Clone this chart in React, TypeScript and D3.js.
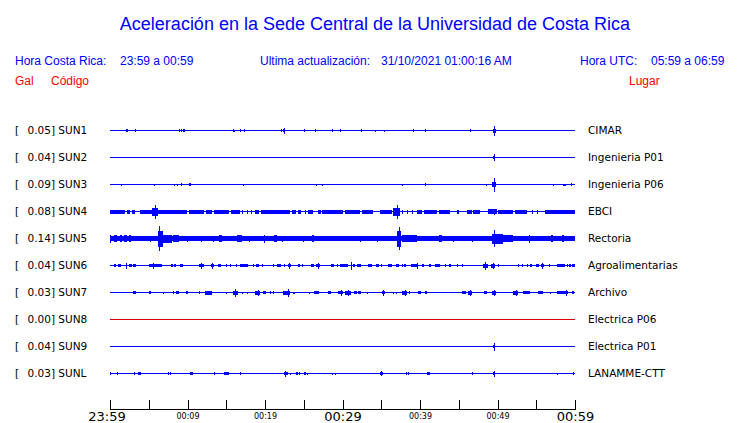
import React from "react";
import { scaleLinear, range } from "d3";

// [start minute, end minute, half amplitude]
type Burst = [number, number, number];

const stations = ["SUN1", "SUN2", "SUN3", "SUN4", "SUN5", "SUN6", "SUN7", "SUN8", "SUN9", "SUNL"];
const peaks = [0.05, 0.04, 0.09, 0.08, 0.14, 0.04, 0.03, 0.0, 0.04, 0.03];
const places = [
  "CIMAR",
  "Ingenieria P01",
  "Ingenieria P06",
  "EBCI",
  "Rectoria",
  "Agroalimentarias",
  "Archivo",
  "Electrica P06",
  "Electrica P01",
  "LANAMME-CTT",
];
const tickLabels = ["23:59", "00:09", "00:19", "00:29", "00:39", "00:49", "00:59"];

const sun1: Burst[] = [
  [2.0, 2.3, 1.5], [3.26, 3.26, 1.5], [8.9, 8.9, 1.5], [9.2, 9.2, 1.5], [9.4, 9.7, 1.2],
  [15.83, 15.83, 1.5], [16.04, 16.04, 1], [16.8, 16.8, 1.5], [17.33, 17.33, 1.5],
  [22.03, 22.03, 1.5], [22.35, 22.55, 1.5], [22.45, 22.45, 3], [25.07, 25.07, 1.5],
  [26.5, 26.5, 1.5], [28.7, 28.7, 1.5], [29.7, 29.7, 1.5], [32.35, 32.35, 1.5],
  [34.2, 34.2, 1], [35.3, 35.3, 1], [39.1, 39.1, 1.5], [40.7, 40.7, 1.5],
  [46.4, 46.4, 1.5], [49.45, 49.75, 2], [49.5, 49.5, 5],
];
const sun2: Burst[] = [[49.45, 49.7, 1.5], [49.5, 49.5, 3.5]];
const sun3: Burst[] = [
  [1.46, 1.46, 1], [5.7, 5.7, 1], [8.2, 8.2, 1], [8.7, 8.7, 1], [9.2, 9.2, 1.5],
  [10.25, 10.45, 1.5], [17.1, 17.1, 1], [26.6, 26.6, 1], [27.3, 27.3, 1],
  [37.7, 37.7, 1], [40.7, 40.7, 1.5], [48.5, 48.5, 1], [49.35, 49.75, 2.5],
  [49.5, 49.5, 7], [57.2, 57.2, 1], [58.4, 58.8, 1], [59.5, 59.5, 1.5],
];
const sun4: Burst[] = [
  [0, 1.94, 2], [2.15, 2.58, 2], [2.88, 3.23, 2], [3.87, 5.46, 2], [5.46, 6.23, 4],
  [5.8, 5.8, 7], [6.23, 9.9, 2], [10.19, 12.13, 2], [12.39, 13.12, 2], [13.42, 15.35, 2],
  [15.61, 16.77, 2], [17.08, 17.08, 2], [17.7, 17.7, 2], [18.15, 18.36, 2],
  [18.71, 19.26, 2], [19.48, 23.23, 2], [23.52, 24.0, 2], [24.3, 24.65, 2],
  [25.2, 25.2, 2], [25.59, 26.23, 2], [26.8, 27.23, 2], [27.4, 29.68, 2],
  [29.68, 30.11, 2], [30.32, 32.26, 2], [32.47, 33.98, 2], [34.84, 36.34, 2],
  [36.56, 37.42, 4], [37.08, 37.08, 7], [37.63, 37.63, 2], [38.28, 38.28, 2],
  [38.92, 38.92, 2], [39.57, 40.22, 2], [40.52, 42.15, 2], [42.41, 43.87, 2],
  [44.73, 45.08, 2], [46.02, 46.67, 2], [46.88, 47.74, 2], [48.82, 49.89, 2.5],
  [49.5, 49.5, 3], [50.11, 52.04, 2], [52.26, 53.76, 2], [54.41, 54.41, 2],
  [55.05, 55.05, 2], [56.13, 60, 2],
];
const sun5: Burst[] = [
  [0, 60, 2.3], [0, 0, 4], [0.56, 0.86, 3.5], [1.29, 1.59, 3.5], [1.85, 2.19, 3.5],
  [2.49, 2.75, 3.5], [5.16, 5.16, 3], [6.2, 6.88, 8], [6.37, 6.37, 12.5],
  [6.88, 7.96, 4], [8.17, 8.9, 3.5], [9.89, 9.89, 3], [11.74, 11.74, 3],
  [13.25, 13.25, 3], [14.06, 14.41, 3.5], [16.34, 17.08, 3.5], [17.94, 17.94, 3],
  [19.83, 19.83, 4], [21.2, 21.55, 3.5], [22.24, 22.24, 3], [24.86, 24.86, 3],
  [26.11, 26.37, 3.5], [32.26, 32.26, 3], [34.49, 34.49, 3], [37.08, 37.6, 8],
  [37.29, 37.29, 11.5], [37.63, 39.57, 3.5], [42.4, 42.8, 3.5], [44.3, 44.3, 3],
  [46.67, 46.67, 3], [49.25, 50.75, 5], [49.51, 49.51, 8.5], [50.75, 52.04, 3.5],
  [54.0, 54.0, 4], [56.85, 57.1, 3.5], [58.35, 58.6, 3.5],
];
const sun6: Burst[] = [
  [0.52, 0.82, 1.5], [0.99, 1.42, 1.5], [2.02, 2.02, 3], [2.45, 2.8, 1.5], [2.97, 3.31, 1.5],
  [5.08, 6.75, 1.5], [5.59, 5.59, 3], [7.83, 8.13, 1.5], [8.22, 8.47, 1.5], [9.03, 9.42, 1.5],
  [11.48, 12.09, 1.5], [11.74, 11.74, 3], [13.03, 13.38, 1.5], [13.2, 13.2, 3],
  [13.94, 14.32, 1.5], [14.92, 14.92, 1.5], [15.53, 15.53, 1.5], [16.26, 16.26, 1.5],
  [16.77, 17.76, 1.5], [18.41, 18.41, 1.5], [18.8, 19.23, 1.5], [19.57, 19.57, 1.5],
  [20.99, 20.99, 1.5], [21.51, 22.02, 1.5], [22.45, 22.45, 1.5], [22.92, 23.35, 1.5],
  [23.14, 23.14, 3], [24.22, 24.52, 1.5], [24.82, 24.82, 1.5], [25.94, 26.37, 1.5],
  [26.58, 27.1, 1.5], [26.8, 26.8, 3], [28.52, 28.95, 1.5], [29.33, 29.33, 1.5],
  [29.72, 30.75, 1.5], [31.05, 31.05, 4], [31.35, 31.61, 1.5], [31.83, 32.34, 1.5],
  [33.33, 33.76, 1.5], [34.32, 34.32, 1.5], [34.5, 34.75, 1.5], [35.01, 35.01, 1.5],
  [35.91, 36.39, 1.5], [36.9, 37.33, 1.5], [37.63, 37.63, 1.5], [37.94, 38.19, 1.5],
  [38.84, 39.57, 1.5], [39.66, 39.66, 3], [40.2, 40.47, 1.5], [41.12, 41.46, 1.5],
  [41.94, 42.58, 1.5], [43.23, 43.23, 1.5], [43.75, 44.0, 1.5], [44.82, 44.82, 1.5],
  [45.46, 45.46, 1.5], [48.09, 48.73, 2], [48.39, 48.39, 4], [49.16, 49.68, 2],
  [49.38, 49.38, 3], [50.02, 50.02, 1.5], [52.69, 52.69, 1.5], [53.12, 53.12, 1.5],
  [53.76, 53.76, 1.5], [54.15, 54.41, 1.5], [54.97, 55.35, 1.5], [55.61, 56.04, 1.5],
  [55.78, 55.78, 3], [56.62, 56.62, 1.5], [57.74, 58.67, 1.5], [58.92, 58.92, 1.5],
  [59.22, 59.48, 1.5], [59.57, 60, 1.5],
];
const sun7: Burst[] = [
  [2.97, 3.35, 1.5], [5.03, 5.29, 1.5], [6.88, 6.88, 1], [8.17, 8.17, 1.5], [8.52, 8.9, 1.5],
  [9.81, 10.06, 1.5], [11.48, 11.48, 1.5], [12.26, 13.2, 2], [14.97, 14.97, 1],
  [15.91, 16.47, 2], [16.17, 16.17, 4], [17.08, 17.08, 1], [17.72, 17.72, 1],
  [18.71, 19.4, 2], [19.1, 19.1, 3], [19.74, 20.08, 1.5], [20.65, 20.65, 1.5],
  [21.08, 21.08, 1.5], [22.37, 23.23, 2], [23.01, 23.01, 4], [23.57, 23.57, 1],
  [23.78, 23.78, 1], [25.72, 25.72, 1], [26.37, 26.97, 1.5], [28.17, 28.47, 1.5],
  [29.46, 30.11, 1.5], [29.76, 29.76, 3], [30.32, 31.05, 2], [30.67, 30.67, 3],
  [31.48, 31.83, 1.5], [32.0, 32.34, 1.5], [33.2, 33.2, 1], [35.1, 35.5, 1.5],
  [35.27, 35.27, 3], [36.56, 36.56, 1], [36.9, 36.9, 1], [37.63, 38.28, 2],
  [38.06, 38.06, 3], [38.62, 38.62, 1.5], [39.72, 40.11, 1.5], [40.63, 40.92, 1.5],
  [45.38, 45.94, 1.5], [46.2, 46.7, 2], [46.45, 46.45, 3], [48.2, 48.65, 1.5],
  [49.3, 49.8, 2], [49.55, 49.55, 3], [52.04, 52.69, 2], [52.39, 52.39, 3],
  [53.29, 54.24, 1.5], [55.27, 55.83, 1.5], [56.77, 56.77, 1], [57.72, 59.14, 1.5],
  [58.84, 58.84, 3], [59.65, 59.9, 1.5],
];
const sun8: Burst[] = [];
const sun9: Burst[] = [[49.51, 49.51, 4], [49.45, 49.65, 1.5]];
const sunL: Burst[] = [
  [0, 0, 1.5], [0.86, 0.86, 1.5], [3.05, 3.05, 1.5], [3.57, 3.96, 1.5], [7.53, 7.53, 1.5],
  [7.78, 7.78, 1.5], [10.37, 10.67, 1.5], [13.38, 13.38, 1.5], [14.71, 15.35, 1.5],
  [16.73, 16.73, 1.5], [22.45, 22.92, 1.5], [22.62, 22.62, 3], [23.27, 23.27, 1],
  [23.98, 24.2, 1.5], [24.4, 24.55, 1.5], [25.05, 25.3, 1.5], [25.46, 25.46, 1],
  [28.69, 28.69, 1], [29.03, 29.03, 1], [34.85, 35.2, 1.5], [35.01, 35.01, 2.5],
  [38.13, 38.13, 1.5], [38.39, 38.39, 1.5], [40.9, 41.25, 1.5], [46.67, 46.67, 1.5],
  [49.4, 49.6, 1.5], [49.51, 49.51, 3], [57.72, 57.72, 1], [59.78, 59.78, 1.5],
];
const bursts = [sun1, sun2, sun3, sun4, sun5, sun6, sun7, sun8, sun9, sunL];

const BLUE = "#0000ff";
const RED = "#ff0000";
const LABEL_FONT = "'DejaVu Sans', sans-serif";
const HEAD_FONT = "'Liberation Sans', Arial, sans-serif";

export default function App() {
  const width = 740;
  const height = 423;
  const x = scaleLinear().domain([0, 60]).range([110, 575]);
  const row = scaleLinear().domain([0, 9]).range([130, 373]);
  const amp = scaleLinear().domain([0, 13]).range([0, 13]);
  const axisY = 409.5;

  return (
    <svg
      width={width}
      height={height}
      style={{ position: "absolute", left: 0, top: 0, background: "#fff" }}
    >
      <text x={375} y={30} textAnchor="middle" fontFamily={HEAD_FONT} fontSize={18} fill={BLUE}>
        Aceleración en la Sede Central de la Universidad de Costa Rica
      </text>
      <g fontFamily={HEAD_FONT} fontSize={12} fill={BLUE}>
        <text x={15} y={65}>Hora Costa Rica:</text>
        <text x={120} y={65}>23:59 a 00:59</text>
        <text x={260} y={65}>Ultima actualización:</text>
        <text x={381} y={65}>31/10/2021 01:00:16 AM</text>
        <text x={580} y={65}>Hora UTC:</text>
        <text x={651} y={65}>05:59 a 06:59</text>
      </g>
      <g fontFamily={HEAD_FONT} fontSize={12} fill={RED}>
        <text x={15} y={85}>Gal</text>
        <text x={51} y={85}>Código</text>
        <text x={629} y={85}>Lugar</text>
      </g>

      {stations.map((s, i) => {
        const cy = row(i) + 0.5;
        const color = peaks[i] === 0 ? "#dd0000" : BLUE;
        return (
          <g key={s}>
            <g fontFamily={LABEL_FONT} fontSize={10.5} fill="#000">
              <text x={15} y={cy} dy="0.35em">[</text>
              <text x={27.5} y={cy} dy="0.35em">
                {peaks[i].toFixed(2)}] {s}
              </text>
              <text x={588} y={cy} dy="0.35em">{places[i]}</text>
            </g>
            <line x1={x(0)} x2={x(60)} y1={cy} y2={cy} stroke={color} strokeWidth={1} shapeRendering="crispEdges" />
            {bursts[i].map(([a, b, h], j) => {
              const x0 = x(a);
              const w = Math.max(1, x(b) - x(a));
              return (
                <rect
                  key={j}
                  x={Math.min(x0, x(60) - w)}
                  y={cy - amp(h)}
                  width={w}
                  height={2 * amp(h)}
                  fill={color}
                  shapeRendering="crispEdges"
                />
              );
            })}
          </g>
        );
      })}

      <g>
        <line x1={x(0)} x2={x(60)} y1={axisY} y2={axisY} stroke="#000" shapeRendering="crispEdges" />
        {range(0, 61, 5).map((m) => (
          <line
            key={m}
            x1={x(m) + 0.5}
            x2={x(m) + 0.5}
            y1={400}
            y2={axisY}
            stroke="#000"
            shapeRendering="crispEdges"
          />
        ))}
        {tickLabels.map((t, i) => {
          const m = i * 10;
          const big = m % 30 === 0;
          return (
            <text
              key={t}
              x={x(m) + (i === 0 ? -3 : 0.5)}
              y={big ? 421 : 419}
              textAnchor="middle"
              fontFamily={LABEL_FONT}
              fontSize={big ? 13 : 8}
              fill="#000"
            >
              {t}
            </text>
          );
        })}
      </g>
    </svg>
  );
}
